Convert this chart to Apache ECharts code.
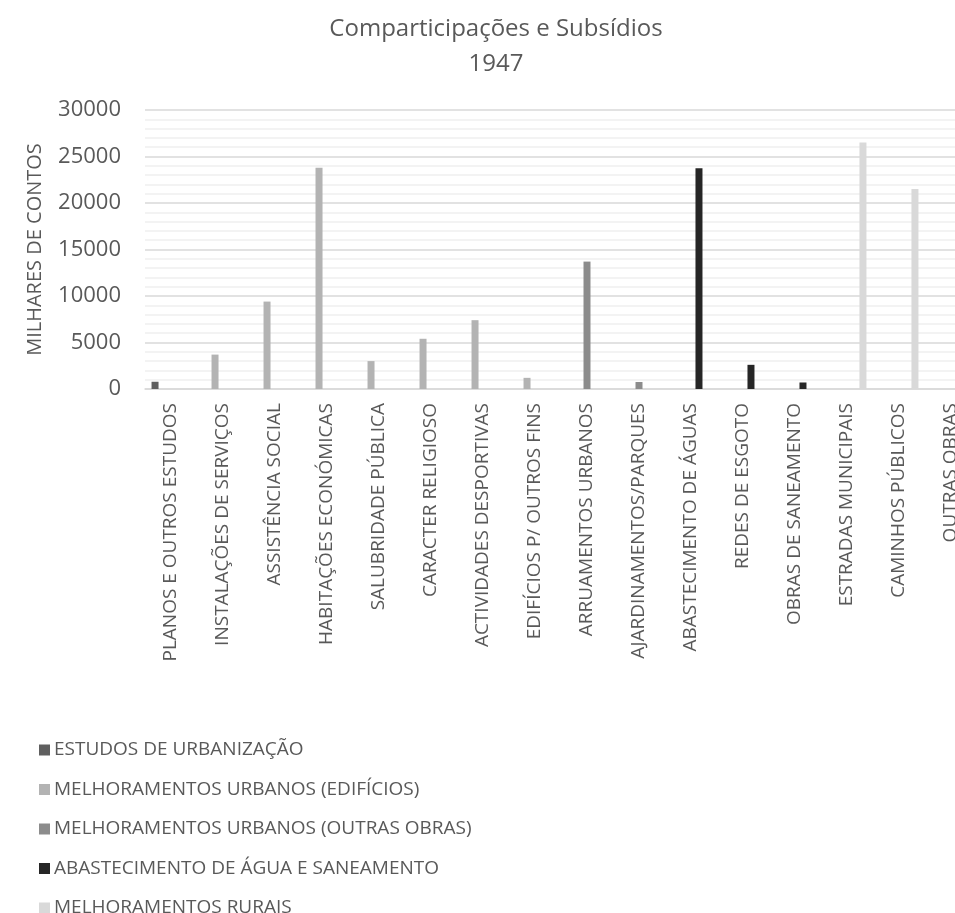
<!DOCTYPE html>
<html>
<head>
<meta charset="utf-8">
<script src="https://cdn.jsdelivr.net/npm/echarts@6/dist/echarts.min.js"></script>
<style>html,body{margin:0;padding:0;background:#fff;overflow:hidden;}#c{width:955px;height:913px;}</style>
</head>
<body>
<div id="c"></div>
<script>
const categories = [
  'PLANOS E OUTROS ESTUDOS', 'INSTALAÇÕES DE SERVIÇOS', 'ASSISTÊNCIA SOCIAL', 'HABITAÇÕES ECONÓMICAS',
  'SALUBRIDADE PÚBLICA', 'CARACTER RELIGIOSO', 'ACTIVIDADES DESPORTIVAS', 'EDIFÍCIOS P/ OUTROS FINS',
  'ARRUAMENTOS URBANOS', 'AJARDINAMENTOS/PARQUES', 'ABASTECIMENTO DE ÁGUAS', 'REDES DE ESGOTO',
  'OBRAS DE SANEAMENTO', 'ESTRADAS MUNICIPAIS', 'CAMINHOS PÚBLICOS', 'OUTRAS OBRAS'
];
const seriesNames = [
  'ESTUDOS DE URBANIZAÇÃO', 'MELHORAMENTOS URBANOS (EDIFÍCIOS)', 'MELHORAMENTOS URBANOS (OUTRAS OBRAS)',
  'ABASTECIMENTO DE ÁGUA E SANEAMENTO', 'MELHORAMENTOS RURAIS'
];
const estudos      = [780, null, null, null, null, null, null, null, null, null, null, null, null, null, null, null];
const edificios    = [null, 3700, 9400, 23800, 3000, 5400, 7400, 1200, null, null, null, null, null, null, null, null];
const outrasObras  = [null, null, null, null, null, null, null, null, 13700, 750, null, null, null, null, null, null];
const agua         = [null, null, null, null, null, null, null, null, null, null, 23750, 2600, 700, null, null, null];
const rurais       = [null, null, null, null, null, null, null, null, null, null, null, null, null, 26500, 21500, null];
const yTicks = [0, 5000, 10000, 15000, 20000, 25000, 30000];
const colors = ['#5f5f5f', '#b3b3b3', '#8c8c8c', '#262626', '#d9d9d9'];

const allData = [estudos, edificios, outrasObras, agua, rurais];
const font = '"Open Sans", "Liberation Sans", sans-serif';

const chart = echarts.init(document.getElementById('c'));
chart.setOption({
  animation: false,
  backgroundColor: '#ffffff',
  title: {
    text: 'Comparticipações e Subsídios\n1947',
    left: 496,
    top: 12,
    textAlign: 'center',
    padding: 0,
    textStyle: { fontFamily: font, fontSize: 24, fontWeight: 'normal', color: '#595959', lineHeight: 35 }
  },
  legend: {
    orient: 'vertical',
    left: 34,
    top: 735,
    height: 200,
    itemWidth: 11,
    itemHeight: 11,
    itemGap: 19.5,
    icon: 'rect',
    data: seriesNames,
    textStyle: { fontFamily: font, fontSize: 19, color: '#595959', lineHeight: 20, padding: [0, 0, 0, -1] }
  },
  grid: { left: 145, width: 832, top: 110, bottom: 524, containLabel: false, outerBoundsMode: 'none' },
  xAxis: {
    type: 'category',
    data: categories,
    axisLine: { show: true, lineStyle: { color: '#d9d9d9', width: 1.5 } },
    axisTick: { show: false },
    axisLabel: {
      interval: 0, rotate: 90, margin: 14,
      fontFamily: font, fontSize: 19, color: '#595959'
    }
  },
  yAxis: {
    type: 'value',
    min: 0, max: 30000, interval: 5000,
    name: 'MILHARES DE CONTOS',
    nameLocation: 'middle',
    nameGap: 100,
    nameTextStyle: { fontFamily: font, fontSize: 20, color: '#595959' },
    axisLine: { show: false },
    axisTick: { show: false },
    axisLabel: {
      margin: 24, fontFamily: font, fontSize: 22, color: '#595959',
      formatter: v => yTicks.includes(v) ? String(v) : ''
    },
    splitLine: { show: true, lineStyle: { color: '#d9d9d9', width: 1.5 } },
    minorTick: { show: false, splitNumber: 5 },
    minorSplitLine: { show: true, lineStyle: { color: '#f0f0f0', width: 1.5 } }
  },
  series: seriesNames.map((n, i) => ({
    name: n,
    type: 'bar',
    data: allData[i],
    barWidth: 7,
    barGap: '14%',
    itemStyle: { color: colors[i] }
  }))
});
</script>
</body>
</html>
